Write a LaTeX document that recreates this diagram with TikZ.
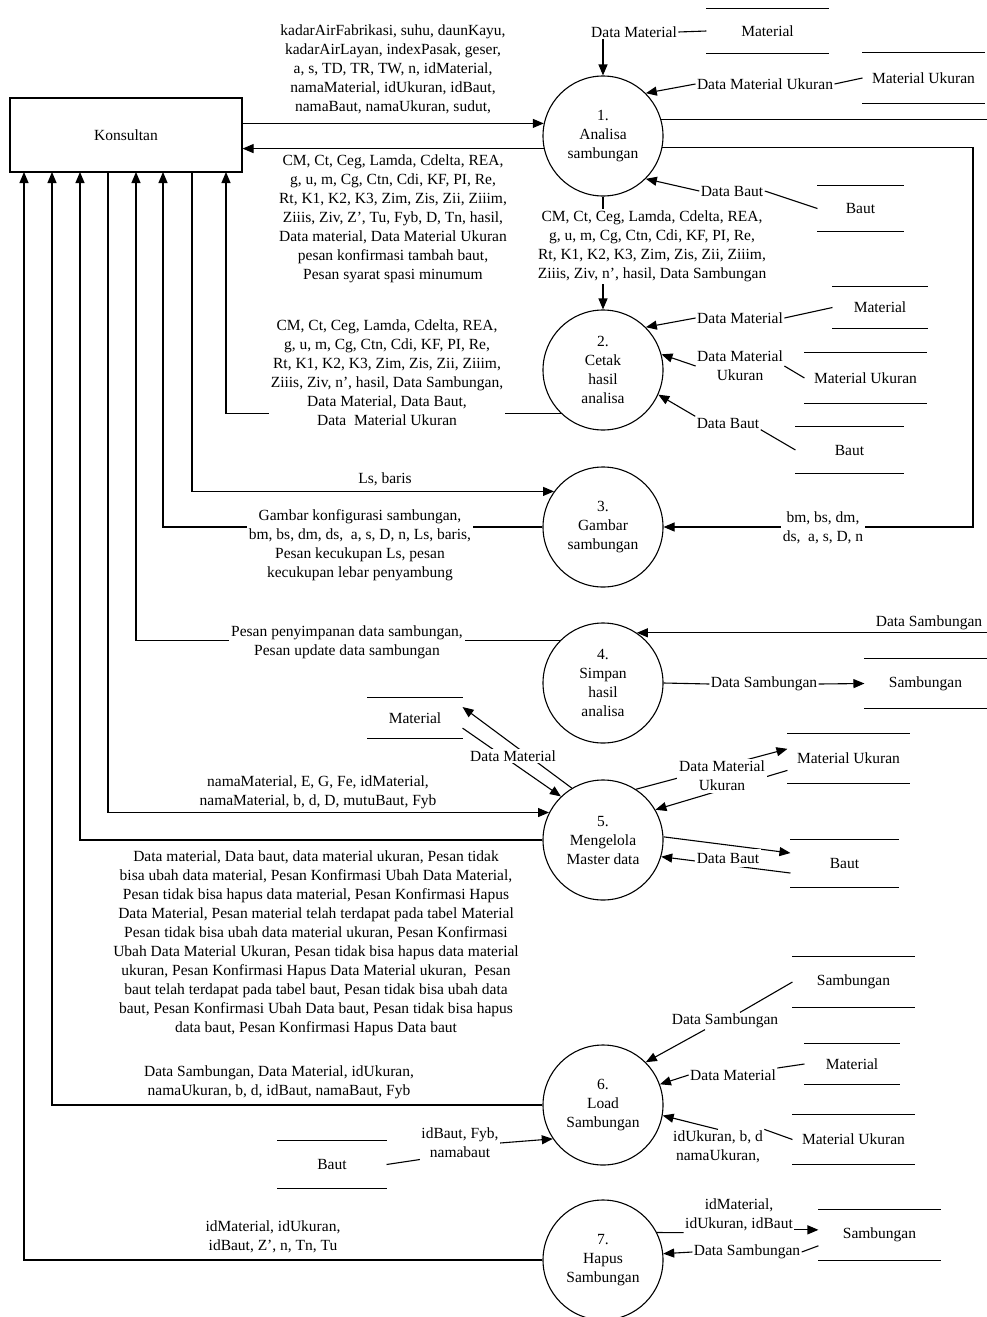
\documentclass[tikz,border=0pt]{standalone}
\usepackage{fontspec}
\setmainfont{Liberation Serif}
\usetikzlibrary{arrows.meta}

\tikzset{
  proses/.style={circle,draw,minimum size=120pt,inner sep=0pt,align=center},
  simpanan/.style={inner sep=0pt},
  aliran/.style={-{Triangle[length=11pt,width=9pt]}},
  ket/.style={align=center,inner sep=1pt},
  tutup/.style={ket,fill=white,inner sep=2pt},
}

\begin{document}
\begin{tikzpicture}[x=1pt,y=-1pt,line width=1.1pt,font=\fontsize{15.5}{19}\selectfont]

  \path[use as bounding box,fill=white] (0,0) rectangle (987,1317);

  \node[draw,minimum width=232pt,minimum height=74pt] (kons) at (126,135) {Konsultan};
  \foreach \i/\x in {1/24,2/52,3/80,4/108,5/136,6/163,7/192,8/226}
    \coordinate (k\i) at (\x,172);
  \coordinate (tepi) at (987,0);
  \coordinate (r3) at (973,527);

  \begin{scope}[every node/.style={proses}]
    \node (p1) at (603,136)  {1.\\Analisa\\sambungan};
    \node (p2) at (603,370)  {2.\\Cetak\\hasil\\analisa};
    \node (p3) at (603,527)  {3.\\Gambar\\sambungan};
    \node (p4) at (603,683)  {4.\\Simpan\\hasil\\analisa};
    \node (p5) at (603,840)  {5.\\Mengelola\\Master data};
    \node (p6) at (603,1105) {6.\\Load\\Sambungan};
    \node (p7) at (603,1260) {7.\\Hapus\\Sambungan};
  \end{scope}

  \begin{scope}[every node/.style={simpanan}]
    \node[minimum width=121pt,minimum height=44pt] (ms1) at (767.5,31)   {Material};
    \node[minimum width=121pt,minimum height=50pt] (mu1) at (923.5,78)   {Material Ukuran};
    \node[minimum width=85pt, minimum height=45pt] (bt1) at (860.5,208.5) {Baut};
    \node[minimum width=94pt, minimum height=41pt] (ms2) at (880,307.5)  {Material};
    \node[minimum width=121pt,minimum height=50pt] (mu2) at (865.5,378)  {Material Ukuran};
    \node[minimum width=107pt,minimum height=46pt] (bt2) at (849.5,450)  {Baut};
    \node[minimum width=121pt,minimum height=49pt] (sb4) at (925.5,683.5) {Sambungan};
    \node[minimum width=94pt, minimum height=40pt] (ms5) at (415,718)    {Material};
    \node[minimum width=121pt,minimum height=49pt] (mu5) at (848.5,758.5) {Material Ukuran};
    \node[minimum width=107pt,minimum height=47pt] (bt5) at (844.5,863.5) {Baut};
    \node[minimum width=121pt,minimum height=50pt] (sb6) at (853.5,982)  {Sambungan};
    \node[minimum width=94pt, minimum height=40pt] (ms6) at (852,1064)   {Material};
    \node[minimum width=121pt,minimum height=49pt] (mu6) at (853.5,1139.5) {Material Ukuran};
    \node[minimum width=108pt,minimum height=47pt] (bt6) at (332,1164.5) {Baut};
    \node[minimum width=121pt,minimum height=50pt] (sb7) at (879.5,1235) {Sambungan};
  \end{scope}
  \foreach \s in {ms1,mu1,bt1,ms2,mu2,bt2,sb4,ms5,mu5,bt5,sb6,ms6,mu6,bt6,sb7}
    \draw (\s.north west) -- (\s.north east) (\s.south west) -- (\s.south east);

  % keterangan aliran
  \begin{scope}[every node/.style={ket}]
    \node (lKP1) at (393,69.5) {kadarAirFabrikasi, suhu, daunKayu,\\kadarAirLayan, indexPasak, geser,\\a, s, TD, TR, TW, n, idMaterial,\\namaMaterial, idUkuran, idBaut,\\namaBaut, namaUkuran, sudut,};
    \node (lP1K) at (393,218.5) {CM, Ct, Ceg, Lamda, Cdelta, REA,\\g, u, m, Cg, Ctn, Cdi, KF, PI, Re,\\Rt, K1, K2, K3, Zim, Zis, Zii, Ziiim,\\Ziiis, Ziv, Z', Tu, Fyb, D, Tn, hasil,\\Data material, Data Material Ukuran\\pesan konfirmasi tambah baut,\\Pesan syarat spasi minumum};
    \node (dm1)  at (634,32)   {Data Material};
    \node (dmu1) at (765,84)   {Data Material Ukuran};
    \node (db1)  at (732,191)  {Data Baut};
    \node (dm2)  at (740,318)  {Data Material};
    \node (dmu2) at (740,366)  {Data Material\\Ukuran};
    \node (db2)  at (728,423)  {Data Baut};
    \node (lKP3) at (385,479)  {Ls, baris};
    \node (ds4a) at (929,623)  {Data Sambungan};
    \node (ds4)  at (764,684)  {Data Sambungan};
    \node (lKP5) at (318,792)  {namaMaterial, E, G, Fe, idMaterial,\\namaMaterial, b, d, D, mutuBaut, Fyb};
    \node (lP5K) at (316,943)  {Data material, Data baut, data material ukuran, Pesan tidak\\bisa ubah data material, Pesan Konfirmasi Ubah Data Material,\\Pesan tidak bisa hapus data material, Pesan Konfirmasi Hapus\\Data Material, Pesan material telah terdapat pada tabel Material\\Pesan tidak bisa ubah data material ukuran, Pesan Konfirmasi\\Ubah Data Material Ukuran, Pesan tidak bisa hapus data material\\ukuran, Pesan Konfirmasi Hapus Data Material ukuran,\ \ Pesan\\baut telah terdapat pada tabel baut, Pesan tidak bisa ubah data\\baut, Pesan Konfirmasi Ubah Data baut, Pesan tidak bisa hapus\\data baut, Pesan Konfirmasi Hapus Data baut};
    \node (lP6K) at (279,1082.5) {Data Sambungan, Data Material, idUkuran,\\namaUkuran, b, d, idBaut, namaBaut, Fyb};
    \node (ds6)  at (725,1021) {Data Sambungan};
    \node (dm6)  at (733,1075) {Data Material};
    \node (dmu6) at (718,1147) {idUkuran, b, d\\namaUkuran,};
    \node (dbt6) at (460,1143) {idBaut, Fyb,\\namabaut};
    \node (lP7K) at (273,1237) {idMaterial, idUkuran,\\idBaut, Z', n, Tn, Tu};
    \node (l7a)  at (739,1215) {idMaterial,\\idUkuran, idBaut};
    \node (ds7)  at (747,1252) {Data Sambungan};
  \end{scope}

  % Konsultan - proses 1
  \draw[aliran] (kons.east |- p1.168) -- (p1.168);
  \draw[aliran] (p1.192) -- (kons.east |- p1.192);
  \draw (ms1.west) -- (dm1.east);
  \draw[aliran] (dm1.south -| p1.north) -- (p1.north);
  \draw (mu1.west) -- (dmu1.east);
  \draw[aliran] (dmu1.west) -- (p1.45);
  \draw (bt1.west) -- (db1.east);
  \draw[aliran] (db1.west) -- (p1.-45);
  \draw (p1.16) -- (p1.16 -| tepi);
  \draw[aliran] (p1.-11) -| (r3) -- (p3.east);
  \draw[aliran] (p1.south) -- (p2.north);

  % proses 2
  \draw (ms2.west) -- (dm2.east);
  \draw[aliran] (dm2.west) -- (p2.45);
  \draw (mu2.west) -- (dmu2.east);
  \draw[aliran] (dmu2.west) -- (p2.15);
  \draw (bt2.west) -- (db2.south east);
  \draw[aliran] (db2.north west) -- (p2.-24);
  \draw[aliran] (p2.226) -| (k8);

  % proses 3
  \draw[aliran] (k7) |- (p3.144);
  \draw[aliran] (p3.west) -| (k6);

  % proses 4
  \draw[aliran] (p4.56 -| tepi) -- (p4.56);
  \draw[aliran] (p4.135) -| (k5);
  \draw (p4.east) -- (ds4.west);
  \draw[aliran] (ds4.east) -- (sb4.west);

  % proses 5
  \draw[aliran] (k4) |- (p5.153);
  \draw[aliran] (p5.west) -| (k3);
  \draw[aliran] (ms5.-12) -- (p5.134);
  \draw[aliran] (p5.121) -- (ms5.13);
  \draw[aliran] (p5.57) -- (mu5.171);
  \draw[aliran] (mu5.191) -- (p5.30);
  \draw[aliran] (p5.3) -- (bt5.169);
  \draw[aliran] (bt5.190) -- (p5.-16);

  % proses 6
  \draw[aliran] (p6.west) -| (k2);
  \draw (sb6.west) -- ([xshift=15pt]ds6.north);
  \draw[aliran] ([xshift=-20pt]ds6.south) -- (p6.45);
  \draw (ms6.west) -- (dm6.north east);
  \draw[aliran] (dm6.west) -- (p6.20);
  \draw (mu6.west) -- (dmu6.north east);
  \draw[aliran] (dmu6.north) -- (p6.-10);
  \draw (bt6.east) -- (dbt6.south west);
  \draw[aliran] (dbt6.east) -- (p6.214);

  % proses 7
  \draw[aliran] (p7.west) -| (k1);
  \draw (p7.27) -- (l7a.south west);
  \draw[aliran] (l7a.-15) -- (l7a.-15 -| sb7.west);
  \draw (sb7.190) -- (ds7.east);
  \draw[aliran] (ds7.west) -- (p7.6);

  % keterangan di atas garis
  \begin{scope}[every node/.style={tutup}]
    \node (lP1P2) at (652,246.5) {CM, Ct, Ceg, Lamda, Cdelta, REA,\\g, u, m, Cg, Ctn, Cdi, KF, PI, Re,\\Rt, K1, K2, K3, Zim, Zis, Zii, Ziiim,\\Ziiis, Ziv, n', hasil, Data Sambungan};
    \node (lbm)   at (823,528)   {bm, bs, dm,\\ds,\ \ a, s, D, n};
    \node (lP2K)  at (387,372.5) {CM, Ct, Ceg, Lamda, Cdelta, REA,\\g, u, m, Cg, Ctn, Cdi, KF, PI, Re,\\Rt, K1, K2, K3, Zim, Zis, Zii, Ziiim,\\Ziiis, Ziv, n', hasil, Data Sambungan,\\Data Material, Data Baut,\\Data\ \ Material Ukuran};
    \node (lP3K)  at (360,545.5) {Gambar konfigurasi sambungan,\\bm, bs, dm, ds,\ \ a, s, D, n, Ls, baris,\\Pesan kecukupan Ls, pesan\\kecukupan lebar penyambung};
    \node (lP4K)  at (347,642)   {Pesan penyimpanan data sambungan,\\Pesan update data sambungan};
    \node (dm5)   at (513,756)   {Data Material};
    \node (dmu5)  at (722,776)   {Data Material\\Ukuran};
    \node[inner ysep=4pt] (db5) at (728,858) {Data Baut};
  \end{scope}

\end{tikzpicture}
\end{document}
